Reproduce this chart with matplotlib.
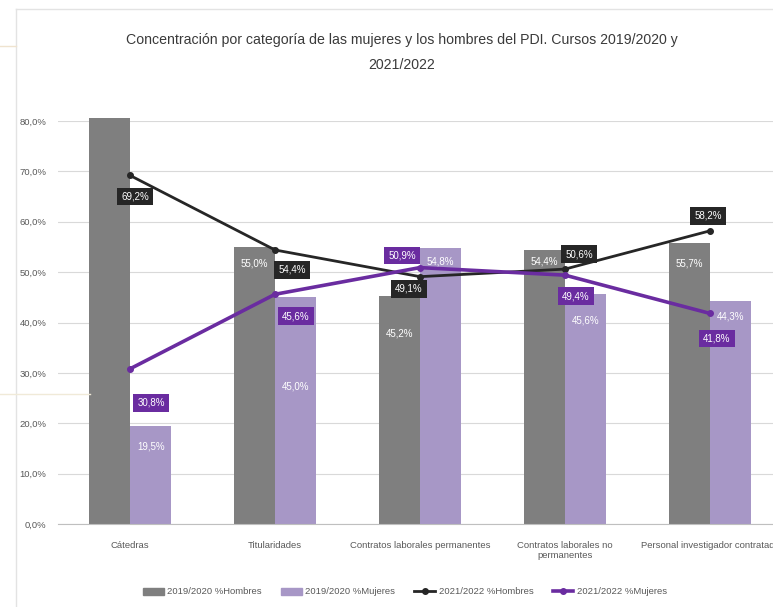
import numpy as np
import matplotlib
matplotlib.use("Agg")
import matplotlib.pyplot as plt
from matplotlib.lines import Line2D
from matplotlib.patches import Patch

plt.rcParams['font.family'] = ['Liberation Sans', 'DejaVu Sans']

categorias = ["Cátedras", "Titularidades", "Contratos laborales permanentes",
              "Contratos laborales no\npermanentes", "Personal investigador contratado"]
hombres_1920 = [80.5, 55.0, 45.2, 54.4, 55.7]
mujeres_1920 = [19.5, 45.0, 54.8, 45.6, 44.3]
hombres_2122 = [69.2, 54.4, 49.1, 50.6, 58.2]
mujeres_2122 = [30.8, 45.6, 50.9, 49.4, 41.8]
series_labels = ["2019/2020 %Hombres", "2019/2020 %Mujeres",
                 "2021/2022 %Hombres", "2021/2022 %Mujeres"]

c_h_bar = "#7f7f7f"
c_m_bar = "#a797c6"
c_h_line = "#262626"
c_m_line = "#6a2ca0"


def pct(v):
    return f"{v:.1f}%".replace(".", ",")


fig = plt.figure(figsize=(7.73, 6.07), dpi=100)

# faint screenshot border lines
fig.add_artist(Line2D([16 / 773, 16 / 773], [0, 1 - 9 / 607], color='#e3e3e3', lw=1))
fig.add_artist(Line2D([16 / 773, 1], [1 - 9 / 607, 1 - 9 / 607], color='#e3e3e3', lw=1))
fig.add_artist(Line2D([0, 16 / 773], [1 - 46 / 607, 1 - 46 / 607], color='#efe3cf', lw=1))
fig.add_artist(Line2D([0, 90 / 773], [1 - 394 / 607, 1 - 394 / 607], color='#f0ead8', lw=1))

ax = fig.add_axes([57.5 / 773, 83 / 607, 725 / 773, 403 / 607])

x = np.arange(len(categorias))
w = 0.285
ax.bar(x - w / 2, hombres_1920, w, color=c_h_bar, zorder=2, clip_on=False)
ax.bar(x + w / 2, mujeres_1920, w, color=c_m_bar, zorder=2, clip_on=False)
ax.plot(x, hombres_2122, color=c_h_line, lw=2, marker='o', ms=4, zorder=4)
ax.plot(x, mujeres_2122, color=c_m_line, lw=2.6, marker='o', ms=4, zorder=4)

# bar labels (pixels below bar top)
off_h = [17, 17, 37, 12, 20]
off_m = [21, 89, 14, 26, 16]
for i in range(len(x)):
    ax.annotate(pct(hombres_1920[i]), (x[i] - w / 2, hombres_1920[i]),
                xytext=(0, -off_h[i]), textcoords='offset pixels',
                ha='center', va='center', color='white', fontsize=7, zorder=5)
    ax.annotate(pct(mujeres_1920[i]), (x[i] + w / 2, mujeres_1920[i]),
                xytext=(0, -off_m[i]), textcoords='offset pixels',
                ha='center', va='center', color='white', fontsize=7, zorder=5)

# line labels (pixel offsets)
lab_h = [(5, -21), (17, -20), (-11, -12), (14, 15), (-2, 15)]
lab_m = [(21, -34), (21, -22), (-18, 12), (11, -21), (7, -25)]
for i in range(len(x)):
    ax.annotate(pct(hombres_2122[i]), (x[i], hombres_2122[i]), xytext=lab_h[i],
                textcoords='offset pixels', ha='center', va='center',
                color='white', fontsize=7, zorder=6,
                bbox=dict(boxstyle='square,pad=0.4', fc=c_h_line, ec='none'))
    ax.annotate(pct(mujeres_2122[i]), (x[i], mujeres_2122[i]), xytext=lab_m[i],
                textcoords='offset pixels', ha='center', va='center',
                color='white', fontsize=7, zorder=6,
                bbox=dict(boxstyle='square,pad=0.4', fc=c_m_line, ec='none'))

ax.set_xlim(-0.5, 4.5)
ax.set_ylim(0, 80)
ax.set_yticks(np.arange(0, 81, 10))
ax.set_yticklabels([pct(v) for v in np.arange(0, 81, 10)])
ax.set_xticks(x)
ax.set_xticklabels(categorias)
ax.tick_params(axis='both', length=0, labelsize=6.8, labelcolor='#595959')
ax.tick_params(axis='y', pad=8)
ax.tick_params(axis='x', pad=12)
ax.grid(axis='y', color='#d9d9d9', lw=0.8, zorder=0)
ax.set_axisbelow(True)
for s in ['top', 'right', 'left']:
    ax.spines[s].set_visible(False)
ax.spines['bottom'].set_color('#bfbfbf')

fig.text(402 / 773, 1 - 40 / 607, "Concentración por categoría de las mujeres y los hombres del PDI. Cursos 2019/2020 y",
         ha='center', va='center', fontsize=10.2, color='#3a3a3a')
fig.text(402 / 773, 1 - 65 / 607, "2021/2022",
         ha='center', va='center', fontsize=10.2, color='#3a3a3a')

handles = [Patch(color=c_h_bar), Patch(color=c_m_bar),
           Line2D([], [], color=c_h_line, lw=2, marker='o', ms=4),
           Line2D([], [], color=c_m_line, lw=2.6, marker='o', ms=4)]
fig.legend(handles, series_labels, loc='center', bbox_to_anchor=(405 / 773, 15 / 607),
           ncol=4, frameon=False, fontsize=6.8, labelcolor='#595959',
           handlelength=2.2, columnspacing=2.0, handletextpad=0.4)

fig.savefig("out.png", dpi=100)
